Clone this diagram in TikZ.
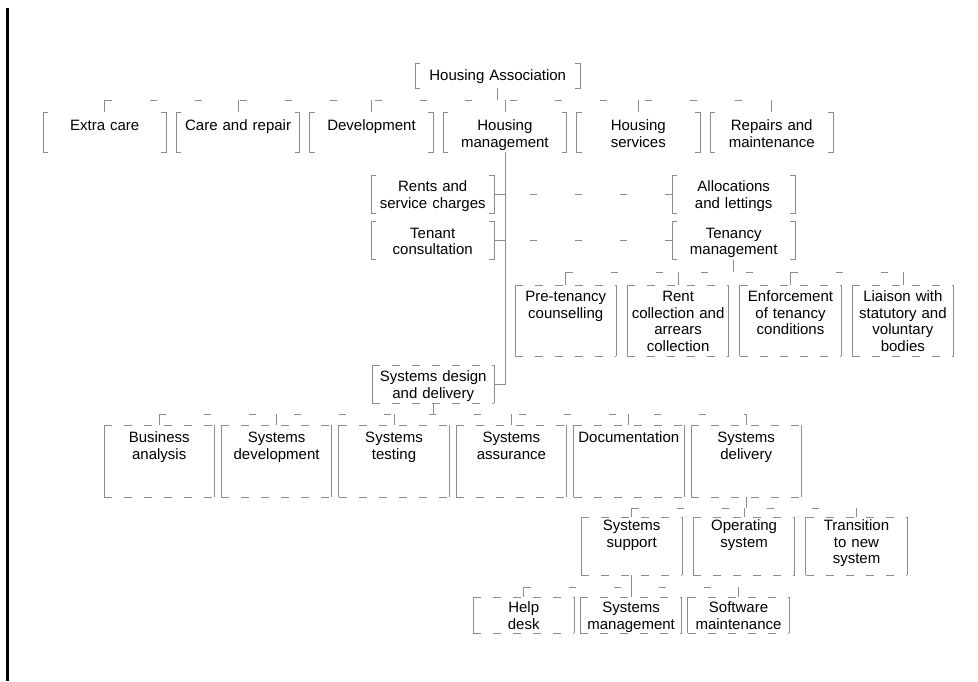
\documentclass[tikz,border=0pt]{standalone}
\usepackage{fontspec}
\setmainfont{Liberation Sans}
\usetikzlibrary{positioning}
\definecolor{rim}{gray}{0.55}

\begin{document}
\begin{tikzpicture}[x=1pt,y=-1pt,
  unit/.style={inner sep=0pt,align=center,font=\fontsize{15}{16.5}\selectfont},
  dims/.style n args={3}{text width=#1,text height=#2,text depth=#3},
  link/.style={draw=rim,line width=0.8pt},
  bus/.style={link,dash pattern=on 7pt off 38pt},
  rimline/.style={draw=rim,line width=0.8pt}]
\useasboundingbox (0,0) rectangle (978,681);
\draw[line width=3pt] (7,8) -- (7,681);

\node[unit,dims={165pt}{17.4pt}{7.6pt},anchor=north west] (ha) at (415,63) {Housing Association};

% first level
\begin{scope}[every node/.append style={unit,dims={123pt}{18.4pt}{21.6pt}}]
\node[anchor=north west] (xc) at (43,112) {Extra care};
\node[right=10pt of xc] (cr) {Care and repair};
\node[right=10pt of cr] (dv) {Development};
\node[right=10pt of dv] (hm) {Housing\\management};
\node[right=10pt of hm] (hs) {Housing\\services};
\node[right=10pt of hs] (rm) {Repairs and\\maintenance};
\end{scope}

% housing management
\begin{scope}[every node/.append style={unit,dims={123pt}{16.4pt}{21.6pt}}]
\node[anchor=north west] (rs) at (371,175) {Rents and\\service charges};
\node[below=8pt of rs] (tc) {Tenant\\consultation};
\node[anchor=north west] (al) at (672,175) {Allocations\\and lettings};
\node[below=8pt of al] (tm) {Tenancy\\management};
\end{scope}

\begin{scope}[every node/.append style={unit,dims={101pt}{16.4pt}{54.6pt}}]
\node[anchor=north west] (pc) at (515,285) {Pre-tenancy\\counselling};
\node[right=11pt of pc] (rc) {Rent\\collection and\\arrears\\collection};
\node[right=11pt of rc] (ec) {Enforcement\\of tenancy\\conditions};
\node[right=11pt of ec] (ls) {Liaison with\\statutory and\\voluntary\\bodies};
\end{scope}

% systems
\node[unit,dims={122pt}{16.4pt}{21.6pt},anchor=north west] (sd) at (372,365) {Systems design\\and delivery};

\begin{scope}[every node/.append style={unit,dims={110pt}{17.4pt}{54.6pt}}]
\node[anchor=north west] (ba) at (104,425) {Business\\analysis};
\node[right=7pt of ba] (sv) {Systems\\development};
\node[right=7pt of sv] (st) {Systems\\testing};
\node[right=7pt of st] (sa) {Systems\\assurance};
\node[right=7pt of sa] (dc) {Documentation};
\node[right=7pt of dc] (sy) {Systems\\delivery};
\end{scope}

\begin{scope}[every node/.append style={unit,dims={101pt}{13.4pt}{44.6pt}}]
\node[anchor=north west] (su) at (581,517) {Systems\\support};
\node[right=11pt of su] (os) {Operating\\system};
\node[right=11pt of os] (tn) {Transition\\to new\\system};
\end{scope}

\begin{scope}[every node/.append style={unit,dims={101pt}{15.4pt}{20.6pt}}]
\node[anchor=north west] (hd) at (473,597) {Help\\desk};
\node[right=6pt of hd] (sm) {Systems\\management};
\node[right=6pt of sm] (sw) {Software\\maintenance};
\end{scope}

% boxes
\foreach \n in {ha,xc,cr,dv,hm,hs,rm,rs,tc,al,tm}
  \draw[rimline] ([xshift=5pt]\n.north west) -- (\n.north west) -- (\n.south west) -- ([xshift=5pt]\n.south west)
    ([xshift=-5pt]\n.north east) -- (\n.north east) -- (\n.south east) -- ([xshift=-5pt]\n.south east);
\foreach \n in {pc,rc,ec,ls,sd,ba,sv,st,sa,dc,sy,su,os,tn,hd,sm,sw} {
  \draw[rimline] (\n.north west) -- (\n.south west) (\n.north east) -- (\n.south east);
  \draw[rimline,dash pattern=on 8pt off 12pt] (\n.north west) -- (\n.north east) (\n.south west) -- (\n.south east);
}

% connectors
\coordinate (b1) at (0,100);
\coordinate (b2) at (0,272);
\coordinate (b3) at (0,414);
\coordinate (b4) at (0,508);
\coordinate (b5) at (0,587);

\draw[link] (ha.south) -- (ha.south |- b1);
\draw[bus] (xc.north |- b1) -- (rm.north |- b1);
\foreach \n in {xc,cr,dv,hm,hs,rm}
  \draw[link] (\n.north) -- (\n.north |- b1);

\draw[link] (hm.south) |- (sd.east);
\draw[link] (rs.east) -- (rs.east -| hm.south);
\draw[link] (tc.east) -- (tc.east -| hm.south);
\draw[bus] (al.west) -- (al.west -| hm.south);
\draw[bus] (tm.west) -- (tm.west -| hm.south);

\draw[link] (tm.south) -- (tm.south |- b2);
\draw[bus] (pc.north |- b2) -- (ls.north |- b2);
\foreach \n in {pc,rc,ec,ls}
  \draw[link] (\n.north) -- (\n.north |- b2);

\draw[link] (sd.south) -- (sd.south |- b3);
\draw[bus] (ba.north |- b3) -- (sy.north |- b3);
\foreach \n in {ba,sv,st,sa,dc,sy}
  \draw[link] (\n.north) -- (\n.north |- b3);

\draw[link] (sy.south) -- (sy.south |- b4);
\draw[bus] (su.north |- b4) -- (tn.north |- b4);
\foreach \n in {su,os,tn}
  \draw[link] (\n.north) -- (\n.north |- b4);

\draw[link] (su.south) -- (su.south |- b5);
\draw[bus] (hd.north |- b5) -- (sw.north |- b5);
\foreach \n in {hd,sm,sw}
  \draw[link] (\n.north) -- (\n.north |- b5);
\end{tikzpicture}
\end{document}
